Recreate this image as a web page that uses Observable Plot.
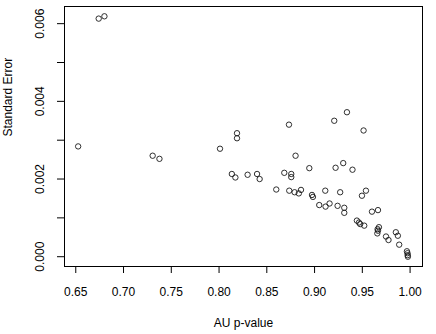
<!DOCTYPE html>
<html><head><meta charset="utf-8">
<script src="https://cdn.jsdelivr.net/npm/d3@7"></script>
<script src="https://cdn.jsdelivr.net/npm/@observablehq/plot@0.6"></script>
<style>body{margin:0;background:#fff;}</style>
</head><body><div id="chart"></div>
<script>
const auP = [0.674, 0.680, 0.6525, 0.7305, 0.7376, 0.801, 0.8188, 0.8188, 0.8134, 0.8171,
  0.8299, 0.8398, 0.8425, 0.8683, 0.8756, 0.8756, 0.8732, 0.8801, 0.8945, 0.9206,
  0.9339, 0.9513, 0.9220, 0.9300, 0.9397, 0.8599, 0.8735, 0.8791, 0.8835, 0.8858,
  0.8973, 0.8983, 0.9112, 0.9268, 0.9049, 0.9115, 0.9157, 0.9241, 0.9311, 0.9311,
  0.9538, 0.9496, 0.9601, 0.9664, 0.9443, 0.9465, 0.9478, 0.9520, 0.9674, 0.9660,
  0.9664, 0.9657, 0.9748, 0.9774, 0.9851, 0.9872, 0.9886, 0.9967, 0.9973, 0.9975, 0.9977];
const stdErr = [0.00613, 0.00619, 0.00284, 0.00260, 0.00252, 0.00278, 0.00318, 0.00305, 0.00213, 0.00204,
  0.00211, 0.00213, 0.00200, 0.00216, 0.00213, 0.00205, 0.00340, 0.00260, 0.00228, 0.00350,
  0.00372, 0.00325, 0.00229, 0.00241, 0.00224, 0.00173, 0.00170, 0.00166, 0.00163, 0.00172,
  0.00159, 0.00154, 0.00170, 0.00166, 0.00133, 0.00129, 0.00137, 0.00131, 0.00126, 0.00113,
  0.00170, 0.00157, 0.00116, 0.00120, 0.00093, 0.00088, 0.00084, 0.00080, 0.00076, 0.00071,
  0.00067, 0.00060, 0.00052, 0.00043, 0.00063, 0.00054, 0.00031, 0.00014, 0.00009, 0.00004, 0.00000];
const xTicks = [0.65, 0.70, 0.75, 0.80, 0.85, 0.90, 0.95, 1.00];
const yTicks = [0, 0.001, 0.002, 0.003, 0.004, 0.005, 0.006];
const yLabelTicks = [0, 0.002, 0.004, 0.006];
const xTitle = "AU p-value";
const yTitle = "Standard Error";

const data = auP.map((x, i) => ({x, y: stdErr[i]}));

const chart = Plot.plot({
  width: 436, height: 334,
  marginLeft: 64, marginRight: 14, marginTop: 6, marginBottom: 68,
  style: {fontFamily: "'Liberation Sans', Arial, Helvetica, sans-serif", fontSize: "12px", background: "#fff", color: "#000"},
  x: {domain: [0.6382, 1.0130]},
  y: {domain: [-0.000252, 0.006442]},
  marks: [
    Plot.frame({stroke: "#000"}),
    Plot.axisX(xTicks, {tickSize: 7, tickPadding: 14, tickFormat: d3.format(".2f"), label: null}),
    Plot.axisY(yTicks, {tickSize: 7, tickFormat: () => "", label: null}),
    Plot.axisY(yLabelTicks, {tickSize: 0, tickPadding: 24, tickRotate: -90, textAnchor: "middle", lineAnchor: "middle", tickFormat: d3.format(".3f"), label: null}),
    Plot.dot(data, {x: "x", y: "y", r: 2.7, stroke: "#1a1a1a", strokeWidth: 0.9}),
    Plot.text([xTitle], {text: d => d, frameAnchor: "bottom", dy: 57, lineAnchor: "middle"}),
    Plot.text([yTitle], {text: d => d, frameAnchor: "left", dx: -56, rotate: -90, lineAnchor: "middle"})
  ]
});
document.getElementById("chart").appendChild(chart);
</script>
</body></html>
